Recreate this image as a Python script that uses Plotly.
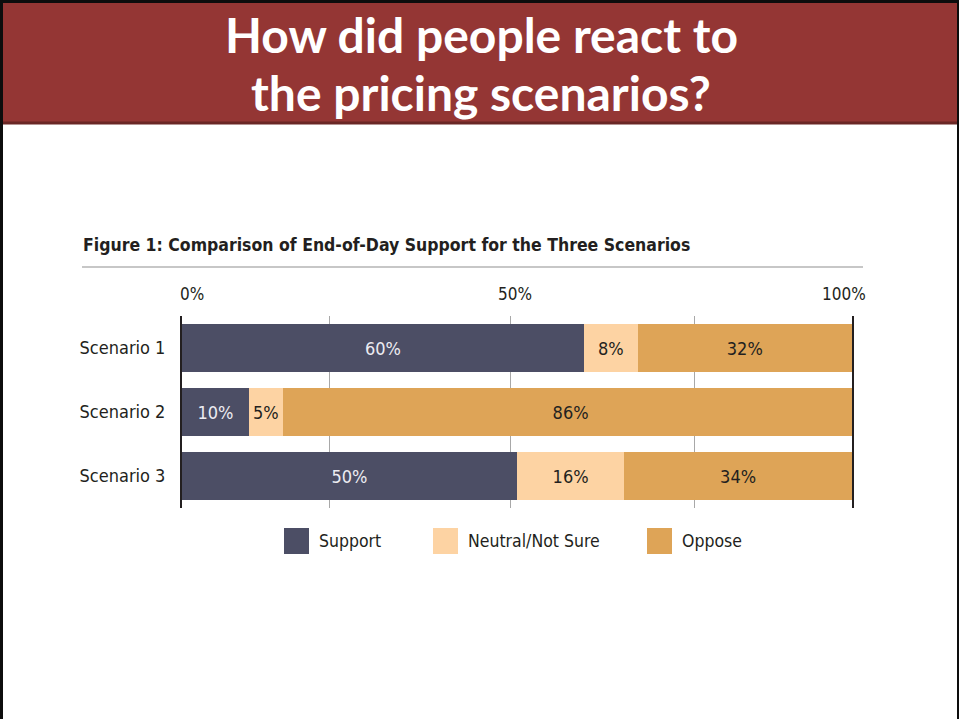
import plotly.graph_objects as go

# ---- data ----
scenarios = ["Scenario 1", "Scenario 2", "Scenario 3"]
series_names = ["Support", "Neutral/Not Sure", "Oppose"]
support = [60, 10, 50]
neutral = [8, 5, 16]
oppose = [32, 86, 34]
tick_vals = [0, 50, 100]
tick_text = ["0%", "50%", "100%"]
title_lines = ["How did people react to", "the pricing scenarios?"]

# ---- style ----
colors = ["#4c4e65", "#fdd3a3", "#dea457"]
text_colors = ["#ececf2", "#231f20", "#231f20"]
FONT = "DejaVu Sans Condensed, Liberation Sans Narrow, Roboto, sans-serif"
TITLE_FONT = "Lato, Open Sans, sans-serif"

W, H = 959, 719
L, R = 182, 852      # plot area in px
T, B = 316, 508


def px(x):
    return (x - L) / (R - L)


def py(y):
    return (B - y) / (B - T)


fig = go.Figure()
for name, vals, c, tc in zip(series_names, [support, neutral, oppose], colors, text_colors):
    fig.add_trace(go.Bar(
        y=scenarios, x=vals, name=name, orientation="h",
        marker=dict(color=c, line=dict(width=0)),
        width=0.75,
        text=[f"{v}%" for v in vals],
        textposition="inside", insidetextanchor="middle",
        textangle=0, constraintext="none",
        textfont=dict(family=FONT, size=18, color=tc),
        showlegend=False, hoverinfo="skip",
    ))

shapes = []
# page border + banner
shapes.append(dict(type="rect", xref="paper", yref="paper",
                   x0=px(0), x1=px(W), y0=py(0), y1=py(124),
                   fillcolor="#0d0d0d", line=dict(width=0), layer="below"))
shapes.append(dict(type="rect", xref="paper", yref="paper",
                   x0=px(3), x1=px(957), y0=py(3), y1=py(122),
                   fillcolor="#943634", line=dict(width=0), layer="below"))
shapes.append(dict(type="rect", xref="paper", yref="paper",
                   x0=px(3), x1=px(957), y0=py(121.5), y1=py(124.5),
                   fillcolor="#6a2725", line=dict(width=0), layer="below"))
shapes.append(dict(type="rect", xref="paper", yref="paper",
                   x0=px(0), x1=px(3), y0=py(0), y1=py(H),
                   fillcolor="#0d0d0d", line=dict(width=0), layer="below"))
shapes.append(dict(type="rect", xref="paper", yref="paper",
                   x0=px(957), x1=px(959), y0=py(0), y1=py(H),
                   fillcolor="#0d0d0d", line=dict(width=0), layer="below"))
# rule under figure title
shapes.append(dict(type="line", xref="paper", yref="paper",
                   x0=px(82), x1=px(863), y0=py(267), y1=py(267),
                   line=dict(color="#b5b5b5", width=1.5)))

annotations = []
# banner title: two lines
for line, yc in zip(title_lines, [34, 93]):
    annotations.append(dict(text=f"<b>{line}</b>", xref="paper", yref="paper",
                            x=px(481), y=py(yc), xanchor="center", yanchor="middle",
                            borderpad=0, showarrow=False,
                            font=dict(family=TITLE_FONT, size=48, color="white")))
annotations.append(dict(text="<b>Figure 1: Comparison of End-of-Day Support for the Three Scenarios</b>",
                        xref="paper", yref="paper", x=px(81), y=py(245),
                        xanchor="left", yanchor="middle", showarrow=False,
                        font=dict(family=FONT, size=17.5, color="#231f20")))
# top tick labels
tick_anchor = ["left", "center", "right"]
tick_shift = [-4, -2, 16]
for v, t, a, s in zip(tick_vals, tick_text, tick_anchor, tick_shift):
    annotations.append(dict(text=t, xref="x", yref="paper", x=v, y=py(294),
                            xanchor=a, yanchor="middle", xshift=s, showarrow=False,
                            font=dict(family=FONT, size=17, color="#231f20")))

# legend (manual, large swatches)
legend_sw = [284, 433, 647]
for name, c, x0 in zip(series_names, colors, legend_sw):
    shapes.append(dict(type="rect", xref="paper", yref="paper",
                       x0=px(x0), x1=px(x0 + 25), y0=py(528), y1=py(554),
                       fillcolor=c, line=dict(width=0)))
    annotations.append(dict(text=name, xref="paper", yref="paper",
                            x=px(x0 + 33), y=py(541), xanchor="left", yanchor="middle",
                            showarrow=False, font=dict(family=FONT, size=17.5, color="#231f20")))

fig.update_layout(
    width=W, height=H,
    margin=dict(l=L, r=W - R, t=T, b=H - B, pad=0),
    paper_bgcolor="white", plot_bgcolor="white",
    barmode="stack", bargap=0.25,
    showlegend=False,
    shapes=shapes, annotations=annotations,
    xaxis=dict(range=[0, 100], tickvals=[22, 49, 76.5], showticklabels=False,
               showgrid=True, gridcolor="#a8a8a8", gridwidth=1,
               zeroline=False, showline=False, ticks="", fixedrange=True),
    yaxis=dict(categoryorder="array", categoryarray=scenarios, autorange="reversed",
               showline=True, linecolor="#231f20", linewidth=2, mirror=True,
               showgrid=False, zeroline=False, ticks="", ticklabelstandoff=11,
               tickfont=dict(family=FONT, size=18, color="#231f20"), fixedrange=True),
)

fig.write_html("out.html")
